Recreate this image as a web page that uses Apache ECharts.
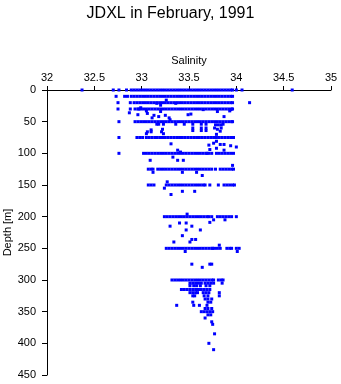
<!DOCTYPE html>
<html><head><meta charset="utf-8">
<script src="https://cdn.jsdelivr.net/npm/echarts@6/dist/echarts.min.js"></script>
<style>html,body{margin:0;padding:0;background:#fff}#c{width:341px;height:384px}</style>
</head><body><div id="c"></div>
<script>
// Tick labels
const xTicks = ["32","32.5","33","33.5","34","34.5","35"];
const yTicks = [0,50,100,150,200,250,300,350,400,450];

// Standard-depth rows: depth levels and salinity readings at each
const rowDepths = [0,10,20,30,50,75,100,125,150,200,250,300];
const sal0 = [32.37,32.70,32.76,32.84,32.89,32.92,32.95,32.98,33.01,33.04,33.07,33.10,33.13,33.16,33.19,33.22,33.25,33.28,33.31,33.34,33.37,33.40,33.43,33.46,33.49,33.52,33.55,33.58,33.61,33.64,33.67,33.70,33.73,33.76,33.79,33.82,33.85,33.88,33.91,33.94,33.96,34.00,34.06,34.59];
const sal10 = [32.73,32.82,32.85,32.89,32.92,32.95,32.98,33.01,33.04,33.07,33.10,33.13,33.16,33.19,33.22,33.25,33.28,33.31,33.34,33.37,33.40,33.43,33.46,33.49,33.52,33.55,33.58,33.61,33.64,33.67,33.70,33.73,33.76,33.79,33.82,33.85,33.88,33.91,33.94,33.96];
const sal20 = [32.75,32.88,32.92,32.95,32.98,33.01,33.04,33.07,33.10,33.13,33.16,33.19,33.22,33.25,33.28,33.31,33.34,33.37,33.40,33.43,33.46,33.49,33.52,33.55,33.58,33.61,33.64,33.67,33.70,33.73,33.76,33.79,33.82,33.85,33.88,33.91,33.94,33.96,34.14];
const sal30 = [32.75,32.88,32.93,32.96,32.99,33.02,33.05,33.08,33.11,33.14,33.17,33.20,33.23,33.26,33.29,33.32,33.35,33.38,33.41,33.44,33.47,33.50,33.53,33.56,33.59,33.62,33.65,33.68,33.71,33.74,33.77,33.80,33.83,33.86,33.89,33.92,33.95,33.96];
const sal50 = [32.76,32.93,32.96,32.99,33.02,33.05,33.08,33.11,33.14,33.17,33.20,33.23,33.26,33.29,33.32,33.35,33.38,33.41,33.44,33.47,33.50,33.53,33.56,33.59,33.62,33.65,33.68,33.71,33.74,33.77,33.80,33.83,33.86,33.89,33.92,33.95,33.96];
const sal75 = [32.76,32.95,32.98,33.01,33.05,33.08,33.11,33.14,33.16,33.19,33.22,33.25,33.28,33.31,33.34,33.37,33.40,33.43,33.46,33.49,33.52,33.55,33.58,33.61,33.64,33.67,33.70,33.73,33.76,33.79,33.82,33.85,33.88,33.91,33.94,33.97];
const sal100 = [32.76,33.02,33.05,33.08,33.11,33.14,33.17,33.20,33.23,33.26,33.29,33.32,33.35,33.38,33.41,33.44,33.47,33.50,33.53,33.56,33.59,33.62,33.65,33.68,33.69,33.71,33.74,33.79,33.82,33.85,33.88,33.91,33.94,33.97];
const sal125 = [33.07,33.10,33.12,33.17,33.20,33.23,33.26,33.29,33.32,33.35,33.38,33.41,33.44,33.47,33.50,33.53,33.56,33.59,33.62,33.65,33.68,33.71,33.74,33.78,33.83,33.86,33.89,33.92,33.95,33.97];
const sal150 = [33.07,33.10,33.13,33.26,33.29,33.32,33.35,33.38,33.41,33.44,33.47,33.50,33.53,33.56,33.59,33.62,33.65,33.67,33.72,33.81,33.87,33.90,33.93,33.96,33.98];
const sal200 = [33.24,33.27,33.30,33.33,33.36,33.39,33.42,33.45,33.48,33.51,33.54,33.57,33.60,33.63,33.66,33.69,33.71,33.74,33.80,33.83,33.86,33.89,33.92,33.95,34.00];
const sal250 = [33.26,33.29,33.32,33.35,33.38,33.41,33.44,33.47,33.50,33.53,33.56,33.59,33.62,33.65,33.68,33.71,33.74,33.75,33.77,33.80,33.83,33.90,33.93,33.95,34.00,34.03];
const sal300 = [33.32,33.35,33.38,33.41,33.44,33.47,33.50,33.53,33.56,33.59,33.62,33.65,33.68,33.71,33.74,33.76,33.81,33.84,33.86];
const rowSal = [sal0,sal10,sal20,sal30,sal50,sal75,sal100,sal125,sal150,sal200,sal250,sal300];

// Individual observations [salinity, depth]
const extraSal = [33.26,33.16,33.36,33.20,32.99,32.97,33.05,32.87,32.96,33.06,33.13,33.18,33.11,33.25,33.29,33.30,33.49,33.52,33.80,33.87,33.93,33.94,33.65,33.20,
 33.16,33.18,33.23,33.36,33.45,33.54,33.63,33.68,33.78,33.81,33.84,33.86,33.22,33.54,33.63,33.68,33.77,33.80,33.84,33.10,33.06,33.10,33.21,33.23,33.54,33.63,33.68,33.79,33.83,33.05,
 33.31,33.71,33.76,33.79,33.83,33.87,33.94,34.00,33.79,33.72,33.87,33.38,33.41,
 33.09,33.33,33.38,33.44,33.96,
 33.12,33.43,33.58,33.64,33.27,
 33.24,33.31,33.43,33.56,
 33.48,33.88,33.76,33.72,33.40,33.47,33.30,33.53,33.47,33.62,33.43,33.53,33.57,33.51,33.34,33.82,
 33.46,34.01,33.53,33.64,33.72,33.74,
 33.51,33.54,33.57,33.60,33.63,33.67,33.70,33.73,33.76,33.85,
 33.51,33.55,33.58,33.62,33.68,33.72,
 33.42,33.45,33.48,33.51,33.54,33.57,33.60,33.63,33.66,33.69,33.72,
 33.51,33.54,33.57,33.59,33.65,33.68,33.71,33.82,
 33.54,33.56,33.66,33.70,33.82,
 33.67,33.70,33.74,
 33.54,33.70,33.73,
 33.37,33.55,33.61,33.69,
 33.67,33.70,33.74,
 33.63,33.66,33.69,33.72,33.75,
 33.70,33.73,33.67,33.74,33.75,33.77,33.71,33.76];
const extraDepth = [16,21,21,24,28,30,33,36,39,37,40,42,44,40,44,47,39,38,34,42,33,31,31,34,
 54,54,54,54,54,54,54,54,55,55,55,54,62,60,60,60,60,62,60,63,66,66,66,69,64,64,64,70,65,69,
 85,87,84,81,86,86,88,90,92,94,95,95,98,
 111,106,111,111,119,
 130,130,130,135,145,
 155,165,160,160,
 196,205,205,209,210,210,215,215,221,221,230,236,236,240,240,245,
 255,255,275,280,275,275,
 305,305,305,305,305,305,305,305,305,305,
 309,309,309,309,309,309,
 315,315,315,315,315,315,315,315,315,315,315,
 320,320,320,320,320,320,320,320,
 325,325,325,325,325,
 330,330,330,
 335,335,335,
 340,340,340,340,
 345,345,345,
 350,350,350,350,350,
 355,355,360,366,370,385,400,410];

const pts = [];
rowDepths.forEach((d,i)=>rowSal[i].forEach(s=>pts.push([s,d])));
extraSal.forEach((s,i)=>pts.push([s,extraDepth[i]]));

const chart = echarts.init(document.getElementById('c'), null, {renderer:'canvas'});
const F = '"Liberation Sans", Arial, sans-serif';
chart.setOption({
  animation:false,
  backgroundColor:'#fff',
  title:{text:'JDXL in February, 1991',left:'center',top:1,textStyle:{fontFamily:F,fontSize:16,fontWeight:'normal',color:'#000'}},
  grid:{left:47,right:10,top:90,bottom:9,containLabel:false,outerBoundsMode:'none'},
  xAxis:{type:'value',position:'top',min:32,max:35,interval:0.5,
    name:'Salinity',nameLocation:'middle',nameGap:24,nameMoveOverlap:false,nameTextStyle:{fontFamily:F,fontSize:11,color:'#000'},
    axisLine:{lineStyle:{color:'#000',width:1}},
    axisTick:{show:true,inside:false,length:4,lineStyle:{color:'#000'}},
    axisLabel:{fontFamily:F,fontSize:11,color:'#000',margin:7,formatter:(v)=>{const i=Math.round((v-32)/0.5);return xTicks[i]||'';}},
    splitLine:{show:false}},
  yAxis:{type:'value',inverse:true,min:0,max:450,interval:50,
    name:'Depth [m]',nameLocation:'middle',nameGap:34,nameRotate:90,nameMoveOverlap:false,nameTextStyle:{fontFamily:F,fontSize:11,color:'#000'},
    axisLine:{onZero:false,lineStyle:{color:'#000',width:1}},
    axisTick:{show:true,inside:false,length:5,lineStyle:{color:'#000'}},
    axisLabel:{fontFamily:F,fontSize:11,color:'#000',margin:11,formatter:(v)=>yTicks.includes(v)?String(v):''},
    splitLine:{show:false}},
  series:[{type:'scatter',data:pts,symbol:'rect',symbolSize:3,itemStyle:{color:'#0000ff',opacity:1},silent:true}]
});
</script></body></html>
